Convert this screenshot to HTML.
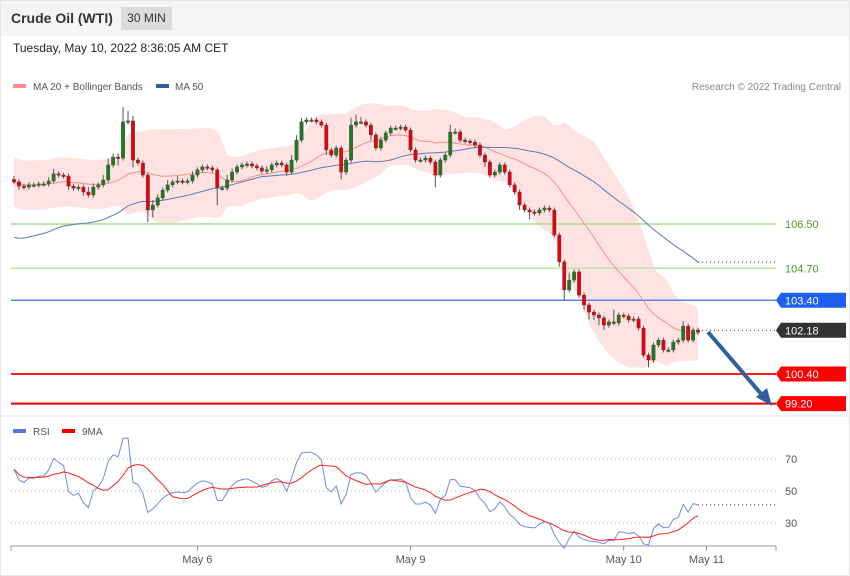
<!DOCTYPE html>
<html><head><meta charset="utf-8"><style>
body{margin:0;background:#fff;font-family:"Liberation Sans",sans-serif;}
#wrap{position:relative;width:850px;height:576px;overflow:hidden;background:#fff;border:1px solid #e6e6e6;box-sizing:border-box}
#hdr{position:absolute;left:-1px;top:-1px;width:850px;height:36px;background:#f5f5f5}
#title{position:absolute;left:11px;top:10px;font-size:14px;font-weight:bold;color:#333}
#badge{position:absolute;left:121px;top:7px;width:51px;height:23px;background:#dcdcdc;font-size:12px;color:#333;line-height:23px;text-align:center}
#date{position:absolute;left:12px;top:40px;font-size:12px;color:#222}
svg{position:absolute;left:-1px;top:-1px}
</style></head><body>
<div id="wrap">
<div id="hdr">
<div id="title">Crude Oil (WTI)</div>
<div id="badge">30 MIN</div>
</div>
<div id="date">Tuesday, May 10, 2022 8:36:05 AM CET</div>
<svg id="svg" width="850" height="576"></svg>
</div>
<script>
const closes=[108.21,108.04,108.00,108.09,108.09,108.13,108.13,108.25,108.54,108.49,108.45,108.04,107.96,108.00,107.80,107.68,108.00,108.09,108.29,108.90,109.22,109.18,110.65,110.69,109.10,108.98,108.49,107.07,107.27,107.56,107.88,108.09,108.21,108.25,108.21,108.25,108.49,108.70,108.82,108.78,108.70,107.96,107.96,108.29,108.61,108.82,108.90,108.94,108.86,108.78,108.65,108.70,108.90,108.98,108.90,108.61,109.10,109.91,110.65,110.73,110.73,110.65,110.52,109.51,109.30,109.59,108.61,109.10,110.52,110.65,110.65,110.52,110.12,109.59,109.91,110.20,110.40,110.40,110.44,110.32,109.51,109.10,109.10,109.18,109.02,108.49,109.10,109.30,110.24,110.24,109.91,109.87,109.83,109.71,109.30,109.02,108.49,108.61,108.90,108.61,108.09,107.80,107.27,107.07,106.99,106.95,107.07,107.15,107.07,106.05,104.96,103.82,104.22,104.55,103.61,103.21,102.92,102.80,102.68,102.39,102.52,102.48,102.80,102.76,102.60,102.64,102.27,101.17,100.97,101.58,101.78,101.38,101.38,101.70,101.78,102.35,101.78,102.19,102.10];
const wickUp=[0.15,0.1,0.1,0.1,0.1,0.1,0.1,0.15,0.2,0.1,0.1,0.1,0.1,0.1,0.1,0.2,0.15,0.1,0.2,0.25,0.15,0.15,0.6,0.4,0.2,0.1,0.1,0.1,0.2,0.15,0.1,0.2,0.1,0.2,0.1,0.1,0.15,0.1,0.1,0.1,0.1,0.1,0.1,0.2,0.15,0.1,0.1,0.1,0.1,0.1,0.1,0.15,0.1,0.1,0.1,0.1,0.2,0.2,0.15,0.1,0.1,0.1,0.1,0.1,0.1,0.1,0.1,0.1,0.3,0.3,0.2,0.1,0.1,0.1,0.15,0.1,0.1,0.1,0.1,0.1,0.1,0.1,0.1,0.1,0.1,0.1,0.1,0.1,0.3,0.15,0.1,0.1,0.1,0.1,0.1,0.1,0.1,0.1,0.1,0.1,0.1,0.1,0.1,0.1,0.1,0.1,0.1,0.1,0.1,0.1,0.1,0.1,0.3,0.1,0.1,0.1,0.1,0.1,0.1,0.1,0.1,0.5,0.1,0.1,0.1,0.1,0.1,0.1,0.1,0.1,0.1,0.1,0.1,0.1,0.1,0.2,0.1,0.1,0.1];
const wickDn=[0.1,0.15,0.1,0.1,0.1,0.1,0.1,0.1,0.1,0.1,0.1,0.15,0.1,0.1,0.15,0.1,0.1,0.1,0.1,0.1,0.1,0.3,0.1,0.1,0.3,0.1,0.1,0.5,0.3,0.1,0.1,0.1,0.1,0.1,0.1,0.1,0.1,0.1,0.1,0.1,0.1,0.7,0.1,0.1,0.1,0.1,0.1,0.1,0.1,0.1,0.1,0.1,0.1,0.1,0.1,0.15,0.1,0.1,0.1,0.1,0.1,0.1,0.1,0.2,0.1,0.1,0.3,0.1,0.1,0.1,0.1,0.1,0.2,0.1,0.1,0.1,0.1,0.1,0.1,0.1,0.1,0.1,0.1,0.1,0.1,0.5,0.1,0.1,0.1,0.1,0.1,0.1,0.1,0.1,0.1,0.2,0.1,0.1,0.1,0.1,0.1,0.1,0.2,0.1,0.3,0.1,0.1,0.1,0.1,0.1,0.2,0.4,0.1,0.1,0.1,0.2,0.3,0.2,0.3,0.2,0.1,0.1,0.1,0.1,0.1,0.1,0.1,0.1,0.3,0.1,0.1,0.1,0.1,0.1,0.1,0.1,0.1,0.1,0.1];
const levels=[106.50,104.70,103.40,100.40,99.20];
const levelColors=["#a8dc8c","#c2e5a8","#5b86ee","#ff1a1a","#ee0000"];
const lastPrice=102.18;
const rsiTicks=[70,50,30];
const xLabels=["May 6","May 9","May 10","May 11"];
const xLabelIdx=[37,80,123,139.7];

const NS="http://www.w3.org/2000/svg",svg=document.getElementById('svg');
function mk(t,a,name,inter){const e=document.createElementNS(NS,t);for(const k in a)e.setAttribute(k,a[k]);


svg.appendChild(e);return e;}
const X=i=>14+i*4.957;
const Y=p=>224+(106.5-p)*24.6;
const RY=v=>491-(v-50)*1.6;
const n=closes.length;
function sma(arr,w,i){let s=0,c=0;for(let j=Math.max(0,i-w+1);j<=i;j++){s+=arr[j];c++;}return s/c;}
const ma20=[],ma50=[],bu=[],bl=[];
for(let i=0;i<n;i++){const m=sma(closes,20,i);ma20.push(m);ma50.push(sma(closes,50,i)-(i<50?(50-i)*0.045:0));
let v=0,c=0;for(let j=Math.max(0,i-19);j<=i;j++){v+=(closes[j]-m)**2;c++;}const sd=Math.max(Math.sqrt(v/c),0.5);bu.push(m+2*sd);bl.push(m-2*sd);}
let bp="M"+X(0)+","+Y(bu[0]);for(let i=1;i<n;i++)bp+="L"+X(i)+","+Y(bu[i]);for(let i=n-1;i>=0;i--)bp+="L"+X(i)+","+Y(bl[i]);
mk('path',{d:bp+"Z",fill:"#ffe3e3"},'bollinger-band');
levels.forEach((p,k)=>{mk('line',{x1:11,x2:776,y1:Y(p),y2:Y(p),stroke:levelColors[k],'stroke-width':k>=3?2:1.5},'level-line-'+p.toFixed(2));});
mk('polyline',{points:ma20.map((v,i)=>X(i)+","+Y(v)).join(" "),fill:"none",stroke:"#ff8a8a","stroke-width":1},'ma20-line');
mk('polyline',{points:ma50.map((v,i)=>X(i)+","+Y(v)).join(" "),fill:"none",stroke:"#5a7ab5","stroke-width":1},'ma50-line');
mk('line',{x1:X(n-1),x2:776,y1:Y(ma50[n-1]),y2:Y(ma50[n-1]),stroke:"#333","stroke-dasharray":"1,3"},'ma50-extension');
mk('line',{x1:X(n-1)+4,x2:776,y1:Y(lastPrice),y2:Y(lastPrice),stroke:"#333","stroke-dasharray":"1,3"},'last-price-line');
for(let i=0;i<n;i++){const o=i?closes[i-1]:closes[0]+0.1,c=closes[i];const hi=Math.max(o,c)+wickUp[i],lo=Math.min(o,c)-wickDn[i];
mk('line',{x1:X(i),x2:X(i),y1:Y(hi),y2:Y(lo),stroke:"#555","stroke-width":1},'candle-wick');
const top=Y(Math.max(o,c)),h=Math.max(1.5,Math.abs(Y(o)-Y(c)));
mk('rect',{x:X(i)-1.7,y:top,width:3.4,height:h,fill:c>=o?"#1f7a1f":"#e8000b",stroke:"#444","stroke-width":0.4},'candle');}
const tagDefs=[[106.50,null,"#4c9a1f"],[104.70,null,"#4c9a1f"],[103.40,"#1e5ef0","#fff"],[lastPrice,"#333","#fff"],[100.40,"#ff0000","#fff"],[99.20,"#ff0000","#fff"]];
tagDefs.forEach(t=>{const y=Y(t[0]);if(t[1])mk('path',{d:`M776,${y}L781,${y-7.5}L846,${y-7.5}L846,${y+7.5}L781,${y+7.5}Z`,fill:t[1]},'price-tag-'+t[0].toFixed(2));
const tx=mk('text',{x:785,y:y+4,'font-size':11,fill:t[2],'font-family':'Liberation Sans'},'price-label-'+t[0].toFixed(2));tx.textContent=t[0].toFixed(2);});
mk('line',{x1:708,y1:332,x2:762,y2:395,stroke:"#2e5f9e","stroke-width":4},'forecast-arrow');
mk('path',{d:"M772,406L756,397L767,388Z",fill:"#2e5f9e"},'forecast-arrowhead');
mk('rect',{x:13,y:84,width:13,height:4,fill:"#ff8a8a"},'legend-ma20-swatch');
let t=mk('text',{x:33,y:90,'font-size':10,fill:"#555"},'legend-ma20');t.textContent="MA 20 + Bollinger Bands";
mk('rect',{x:156,y:84,width:13,height:4,fill:"#2e5f9e"},'legend-ma50-swatch');
t=mk('text',{x:175,y:90,'font-size':10,fill:"#555"},'legend-ma50');t.textContent="MA 50";
t=mk('text',{x:841,y:90,'font-size':10,fill:"#888",'text-anchor':'end'},'copyright');t.textContent="Research © 2022 Trading Central";
mk('line',{x1:0,x2:850,y1:416,y2:416,stroke:"#e3e3e3"},'panel-separator');
// RSI (Wilder, seeded with prior averages)
const rsi=[];let ag=0.07,al=0.04;
for(let i=0;i<n;i++){if(i==0){rsi.push(100-100/(1+ag/al));continue;}const d=closes[i]-closes[i-1];const g=Math.max(d,0),l=Math.max(-d,0);
ag=(ag*13+g)/14;al=(al*13+l)/14;
rsi.push(al==0?70:100-100/(1+ag/al));}
const rsiMa=rsi.map((v,i)=>sma(rsi,9,i));
rsiTicks.forEach(v=>{mk('line',{x1:11,x2:776,y1:RY(v),y2:RY(v),stroke:"#bbb","stroke-dasharray":"1,3"},'rsi-grid-'+v);
const tt=mk('text',{x:785,y:RY(v)+4,'font-size':11,fill:"#555"},'rsi-tick-'+v);tt.textContent=v;});
mk('polyline',{points:rsi.map((v,i)=>X(i)+","+RY(v)).join(" "),fill:"none",stroke:"#6f8ee0","stroke-width":1},'rsi-line');
mk('polyline',{points:rsiMa.map((v,i)=>X(i)+","+RY(v)).join(" "),fill:"none",stroke:"#ff2020","stroke-width":1},'rsi-ma-line');
mk('line',{x1:X(n-1),x2:776,y1:RY(rsi[n-1]),y2:RY(rsi[n-1]),stroke:"#333","stroke-dasharray":"1,3"},'rsi-extension');
mk('rect',{x:13,y:429,width:13,height:4,fill:"#5577dd"},'legend-rsi-swatch');
t=mk('text',{x:33,y:435,'font-size':10,fill:"#555"},'legend-rsi');t.textContent="RSI";
mk('rect',{x:62,y:429,width:13,height:4,fill:"#ee0000"},'legend-9ma-swatch');
t=mk('text',{x:82,y:435,'font-size':10,fill:"#555"},'legend-9ma');t.textContent="9MA";
mk('line',{x1:11,x2:776,y1:546,y2:546,stroke:"#999"},'x-axis');
[11,776].forEach(x=>mk('line',{x1:x,x2:x,y1:546,y2:551,stroke:"#999"},'x-axis-end-tick'));
xLabels.forEach((l,k)=>{const x=X(xLabelIdx[k]);mk('line',{x1:x,x2:x,y1:546,y2:551,stroke:"#999"},'x-tick');
const tt=mk('text',{x:x,y:563,'font-size':11,fill:"#555",'text-anchor':'middle'},'x-label');tt.textContent=l;});
</script>
</body></html>
